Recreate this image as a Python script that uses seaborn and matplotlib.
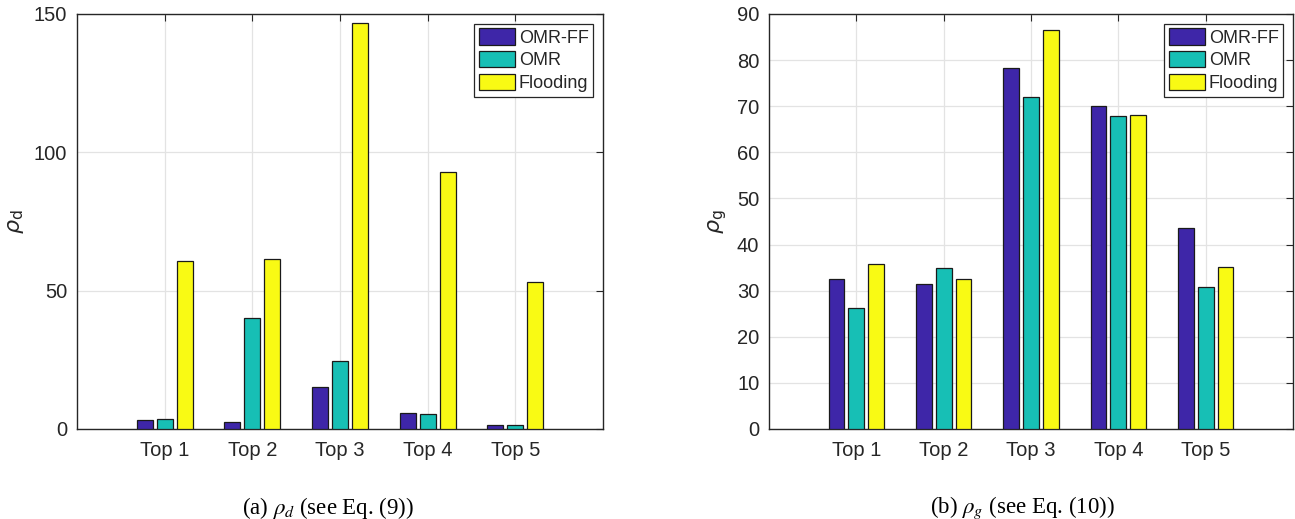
import numpy as np
import pandas as pd
import matplotlib
matplotlib.use("Agg")
import matplotlib.pyplot as plt
import seaborn as sns

categories = ["Top 1", "Top 2", "Top 3", "Top 4", "Top 5"]
series = ["OMR-FF", "OMR", "Flooding"]
rho_d_omrff = [3.3, 2.7, 15.2, 5.7, 1.6]
rho_d_omr = [3.7, 40.2, 24.7, 5.3, 1.6]
rho_d_flood = [60.8, 61.6, 146.6, 92.9, 53.1]
rho_g_omrff = [32.6, 31.4, 78.2, 70.1, 43.5]
rho_g_omr = [26.2, 35.0, 71.9, 67.8, 30.9]
rho_g_flood = [35.8, 32.6, 86.5, 68.0, 35.1]
colors = ["#3E26A8", "#17BFB5", "#F9FA14"]

sns.set_style("white")
plt.rcParams["font.family"] = ["Liberation Sans", "DejaVu Sans"]

def long_df(a, b, c):
    rows = []
    for s, vals in zip(series, [a, b, c]):
        for cat, v in zip(categories, vals):
            rows.append({"cat": cat, "series": s, "value": v})
    return pd.DataFrame(rows)

fig = plt.figure(figsize=(12.95, 5.19), dpi=100)
ax1 = fig.add_axes([77 / 1295, 1 - 429 / 519, 526 / 1295, 415 / 519])
ax2 = fig.add_axes([769 / 1295, 1 - 429 / 519, 524 / 1295, 415 / 519])

dark = "#262626"
panels = [
    (ax1, long_df(rho_d_omrff, rho_d_omr, rho_d_flood), (0, 150), [0, 50, 100, 150], r"$\rho_{\mathrm{d}}$"),
    (ax2, long_df(rho_g_omrff, rho_g_omr, rho_g_flood), (0, 90), list(range(0, 91, 10)), r"$\rho_{\mathrm{g}}$"),
]
for ax, df, ylim, yticks, ylabel in panels:
    sns.barplot(data=df, x="cat", y="value", hue="series", hue_order=series,
                order=categories, palette=colors, width=0.684, gap=0.21,
                edgecolor="#1a1a1a", linewidth=0.9, saturation=1, ax=ax, zorder=3)
    ax.set_xlim(-1, 5)
    ax.set_ylim(*ylim)
    ax.set_yticks(yticks)
    ax.set_xlabel("")
    ax.set_ylabel(ylabel, fontsize=16, color=dark, math_fontfamily="dejavusans", labelpad=6)
    ax.grid(True, color="#e3e3e3", linewidth=0.9, zorder=0)
    ax.set_axisbelow(True)
    ax.tick_params(direction="in", length=5, width=0.8, colors=dark,
                   labelsize=14.5, top=True, right=True, labelcolor=dark, pad=7)
    ax.tick_params(axis="x", pad=9)
    for sp in ax.spines.values():
        sp.set_color(dark)
        sp.set_linewidth(1.0)
    leg = ax.legend(loc="upper right", fontsize=13, frameon=True, fancybox=False,
                    edgecolor=dark, framealpha=1, borderaxespad=0.55,
                    handlelength=2.0, handleheight=1.0, handletextpad=0.2,
                    labelspacing=0.25, borderpad=0.25, title=None)
    leg.get_frame().set_linewidth(0.9)

fig.text(328 / 1295, 1 - 508 / 519, r"(a) $\rho_d$ (see Eq. (9))", ha="center", va="center",
         fontsize=16.5, family="Liberation Serif", math_fontfamily="stix", color="black")
fig.text(1022 / 1295, 1 - 508 / 519, r"(b) $\rho_g$ (see Eq. (10))", ha="center", va="center",
         fontsize=16.5, family="Liberation Serif", math_fontfamily="stix", color="black")

fig.savefig("out.png", dpi=100)
